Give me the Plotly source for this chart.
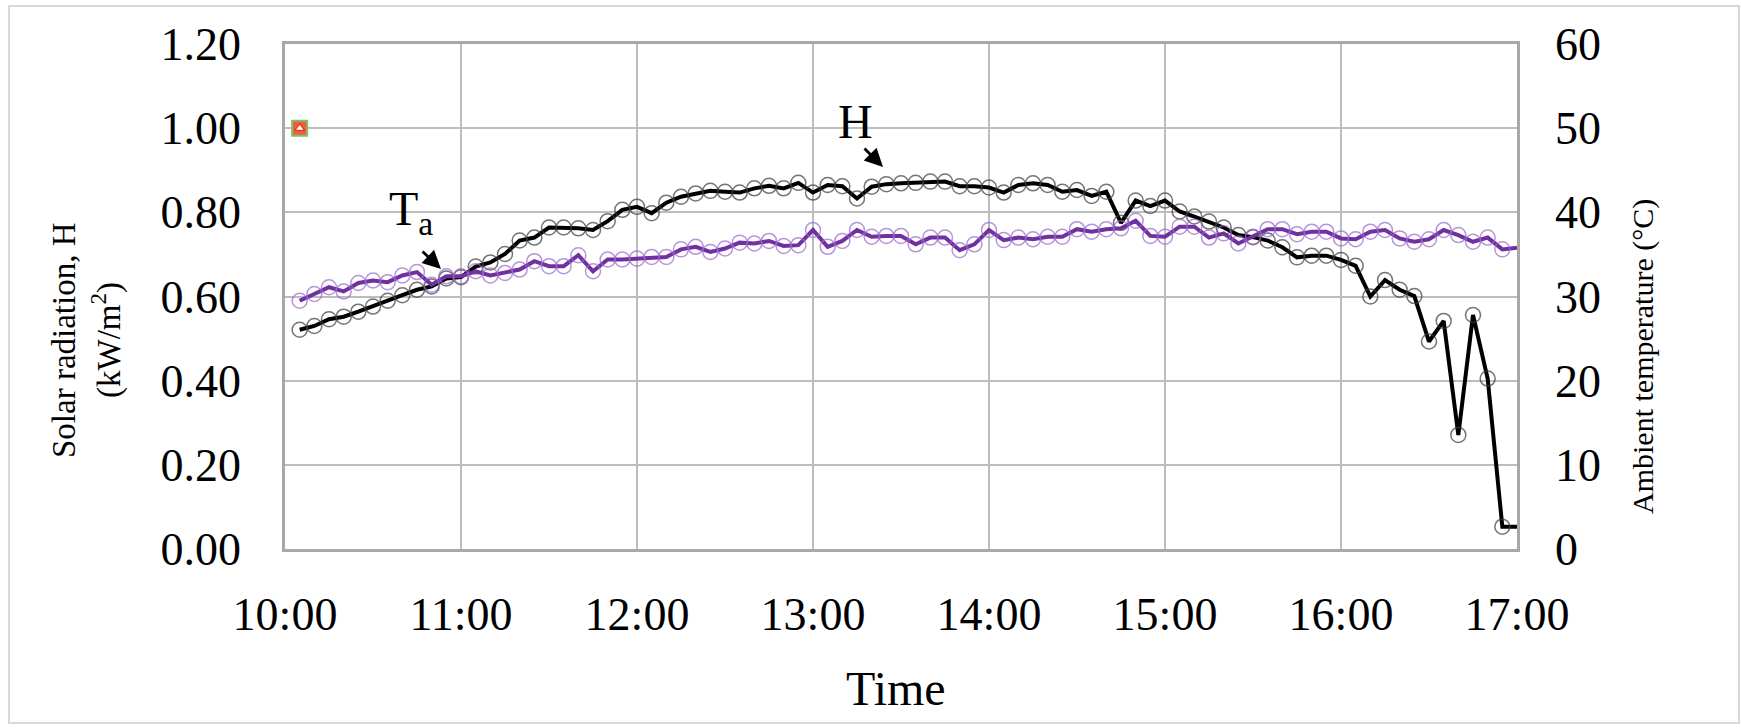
import plotly.graph_objects as go
import pandas as pd

# ---------------- data ----------------
times = [
    "10:05", "10:10", "10:15", "10:20", "10:25", "10:30", "10:35", "10:40", "10:45", "10:50",
    "10:55", "11:00", "11:05", "11:10", "11:15", "11:20", "11:25", "11:30", "11:35", "11:40",
    "11:45", "11:50", "11:55", "12:00", "12:05", "12:10", "12:15", "12:20", "12:25", "12:30",
    "12:35", "12:40", "12:45", "12:50", "12:55", "13:00", "13:05", "13:10", "13:15", "13:20",
    "13:25", "13:30", "13:35", "13:40", "13:45", "13:50", "13:55", "14:00", "14:05", "14:10",
    "14:15", "14:20", "14:25", "14:30", "14:35", "14:40", "14:45", "14:50", "14:55", "15:00",
    "15:05", "15:10", "15:15", "15:20", "15:25", "15:30", "15:35", "15:40", "15:45", "15:50",
    "15:55", "16:00", "16:05", "16:10", "16:15", "16:20", "16:25", "16:30", "16:35", "16:40",
    "16:45", "16:50", "16:55", "17:00",
]

solar_H = [
    0.521, 0.530, 0.546, 0.552, 0.564, 0.576, 0.590, 0.603, 0.616, 0.624,
    0.643, 0.646, 0.671, 0.681, 0.701, 0.733, 0.740, 0.764, 0.764, 0.762,
    0.758, 0.779, 0.806, 0.813, 0.798, 0.823, 0.837, 0.845, 0.851, 0.849,
    0.847, 0.857, 0.863, 0.857, 0.870, 0.847, 0.865, 0.862, 0.833, 0.861,
    0.867, 0.869, 0.870, 0.873, 0.873, 0.862, 0.862, 0.859, 0.847, 0.865,
    0.869, 0.865, 0.849, 0.853, 0.839, 0.849, 0.775, 0.828, 0.815, 0.828,
    0.802, 0.790, 0.778, 0.764, 0.746, 0.741, 0.733, 0.717, 0.693, 0.697,
    0.697, 0.687, 0.673, 0.600, 0.639, 0.616, 0.601, 0.493, 0.542, 0.271,
    0.556, 0.405, 0.053, 0.053,
]

ambient_Ta = [
    29.5, 30.3, 31.1, 30.6, 31.6, 31.9, 31.7, 32.5, 32.9, 31.4,
    32.4, 32.4, 33.0, 32.5, 32.8, 33.2, 34.2, 33.6, 33.6, 34.9,
    33.0, 34.4, 34.4, 34.5, 34.7, 34.7, 35.6, 35.9, 35.3, 35.7,
    36.4, 36.3, 36.6, 36.0, 36.1, 37.9, 35.9, 36.6, 37.9, 37.1,
    37.2, 37.2, 36.2, 37.0, 37.0, 35.5, 36.2, 37.9, 36.7, 37.0,
    36.8, 37.1, 37.1, 38.0, 37.7, 38.0, 38.1, 39.0, 37.2, 37.1,
    38.3, 38.3, 37.0, 37.5, 36.3, 37.1, 38.0, 38.0, 37.4, 37.7,
    37.7, 36.9, 36.8, 37.7, 37.9, 36.9, 36.5, 36.8, 37.9, 37.3,
    36.5, 37.0, 35.6, 35.8,
]

# stray legend-key marker seen in the original
stray_time = ["10:05"]
stray_value = [1.00]

left_ticks = [0.0, 0.2, 0.4, 0.6, 0.8, 1.0, 1.2]
right_ticks = [0, 10, 20, 30, 40, 50, 60]
x_start, x_end = "10:00", "17:00"

# ---------------- helpers ----------------
DAY = "2000-01-01 "
to_dt = lambda lst: pd.to_datetime([DAY + t for t in lst])
x_dt = to_dt(times)

W, HT = 1741, 728
PL, PR, PT, PB = 285, 1517, 44, 549   # plot area in pixels


def px(x):
    return (x - PL) / (PR - PL)


def py(y):
    return (PB - y) / (PB - PT)


FONT = "Liberation Serif"
n = len(times)
sizes = [15] * (n - 1) + [0]

fig = go.Figure()

fig.add_trace(go.Scatter(
    x=x_dt, y=solar_H, mode="lines+markers", name="H",
    line=dict(color="#000000", width=4),
    marker=dict(symbol="circle-open", size=sizes, color="#3a3a3a", line=dict(width=1.5)),
    yaxis="y",
))
fig.add_trace(go.Scatter(
    x=x_dt, y=ambient_Ta, mode="lines+markers", name="Ta",
    line=dict(color="#7030a0", width=4),
    marker=dict(symbol="circle-open", size=sizes, color="#9a66cc", line=dict(width=1.5)),
    yaxis="y2",
))
fig.add_trace(go.Scatter(
    x=to_dt(stray_time), y=stray_value, mode="markers",
    marker=dict(symbol="square", size=15, color="#f0603a", line=dict(color="#7cc06a", width=2)),
    yaxis="y", showlegend=False,
))
fig.add_trace(go.Scatter(
    x=to_dt(stray_time), y=stray_value, mode="markers",
    marker=dict(symbol="triangle-up", size=9, color="#ffffff", line=dict(color="#e8402a", width=1.5)),
    yaxis="y", showlegend=False,
))

grid = "#bdbdbd"
border = "#a8a8a8"
tickfont = dict(family=FONT, size=46, color="#000000")

fig.update_layout(
    width=W, height=HT,
    margin=dict(l=PL, r=W - PR, t=PT, b=HT - PB),
    paper_bgcolor="white", plot_bgcolor="white",
    showlegend=False,
    xaxis=dict(
        type="date",
        range=[DAY + x_start, DAY + x_end],
        dtick=3600000, tickformat="%H:%M",
        showgrid=True, gridcolor=grid, gridwidth=1.5,
        showline=True, linecolor=border, linewidth=2.5, mirror=True,
        ticks="", tickfont=tickfont, ticklabelstandoff=23,
        zeroline=False,
    ),
    yaxis=dict(
        range=[0, 1.2], tickvals=left_ticks, tickformat=".2f",
        showgrid=True, gridcolor=grid, gridwidth=1.5,
        showline=True, linecolor=border, linewidth=2.5, mirror=True,
        ticks="", tickfont=tickfont, ticklabelstandoff=32,
        zeroline=False,
    ),
    yaxis2=dict(
        range=[0, 60], tickvals=right_ticks, overlaying="y", side="right",
        showgrid=False, showline=False,
        ticks="", tickfont=tickfont, ticklabelstandoff=37,
        zeroline=False,
    ),
)

ann = []
# axis titles
ann.append(dict(text="Solar radiation, H", x=px(64), y=py(340), xref="paper", yref="paper",
                textangle=-90, showarrow=False, font=dict(family=FONT, size=33, color="#000"),
                xanchor="center", yanchor="middle"))
ann.append(dict(text="(kW/m<sup>2</sup>)", x=px(106), y=py(340), xref="paper", yref="paper",
                textangle=-90, showarrow=False, font=dict(family=FONT, size=33, color="#000"),
                xanchor="center", yanchor="middle"))
ann.append(dict(text="Ambient temperature (°C)", x=px(1643), y=py(357), xref="paper", yref="paper",
                textangle=-90, showarrow=False, font=dict(family=FONT, size=30, color="#000"),
                xanchor="center", yanchor="middle"))
ann.append(dict(text="Time", x=px(896), y=py(688), xref="paper", yref="paper",
                showarrow=False, font=dict(family=FONT, size=48, color="#000"),
                xanchor="center", yanchor="middle"))
# series labels
ann.append(dict(text="T<sub>a</sub>", x=px(411), y=py(212), xref="paper", yref="paper",
                showarrow=False, font=dict(family=FONT, size=48, color="#000"),
                xanchor="center", yanchor="middle"))
ann.append(dict(text="H", x=px(855), y=py(121), xref="paper", yref="paper",
                showarrow=False, font=dict(family=FONT, size=48, color="#000"),
                xanchor="center", yanchor="middle"))
# arrows
for (tx, ty, sx, sy) in [(441, 269, 421, 250), (883, 167, 863, 147)]:
    ann.append(dict(text="", x=px(tx), y=py(ty), xref="paper", yref="paper",
                    ax=sx - tx, ay=sy - ty, axref="pixel", ayref="pixel",
                    showarrow=True, arrowhead=2, arrowsize=1.3, arrowwidth=2.8,
                    arrowcolor="#000"))
fig.update_layout(annotations=ann)

# outer frame
fig.add_shape(type="rect", xref="paper", yref="paper",
              x0=px(9), x1=px(1739), y0=py(6), y1=py(723),
              line=dict(color="#d9d9d9", width=2), fillcolor="rgba(0,0,0,0)", layer="below")

fig.write_html("out.html")
